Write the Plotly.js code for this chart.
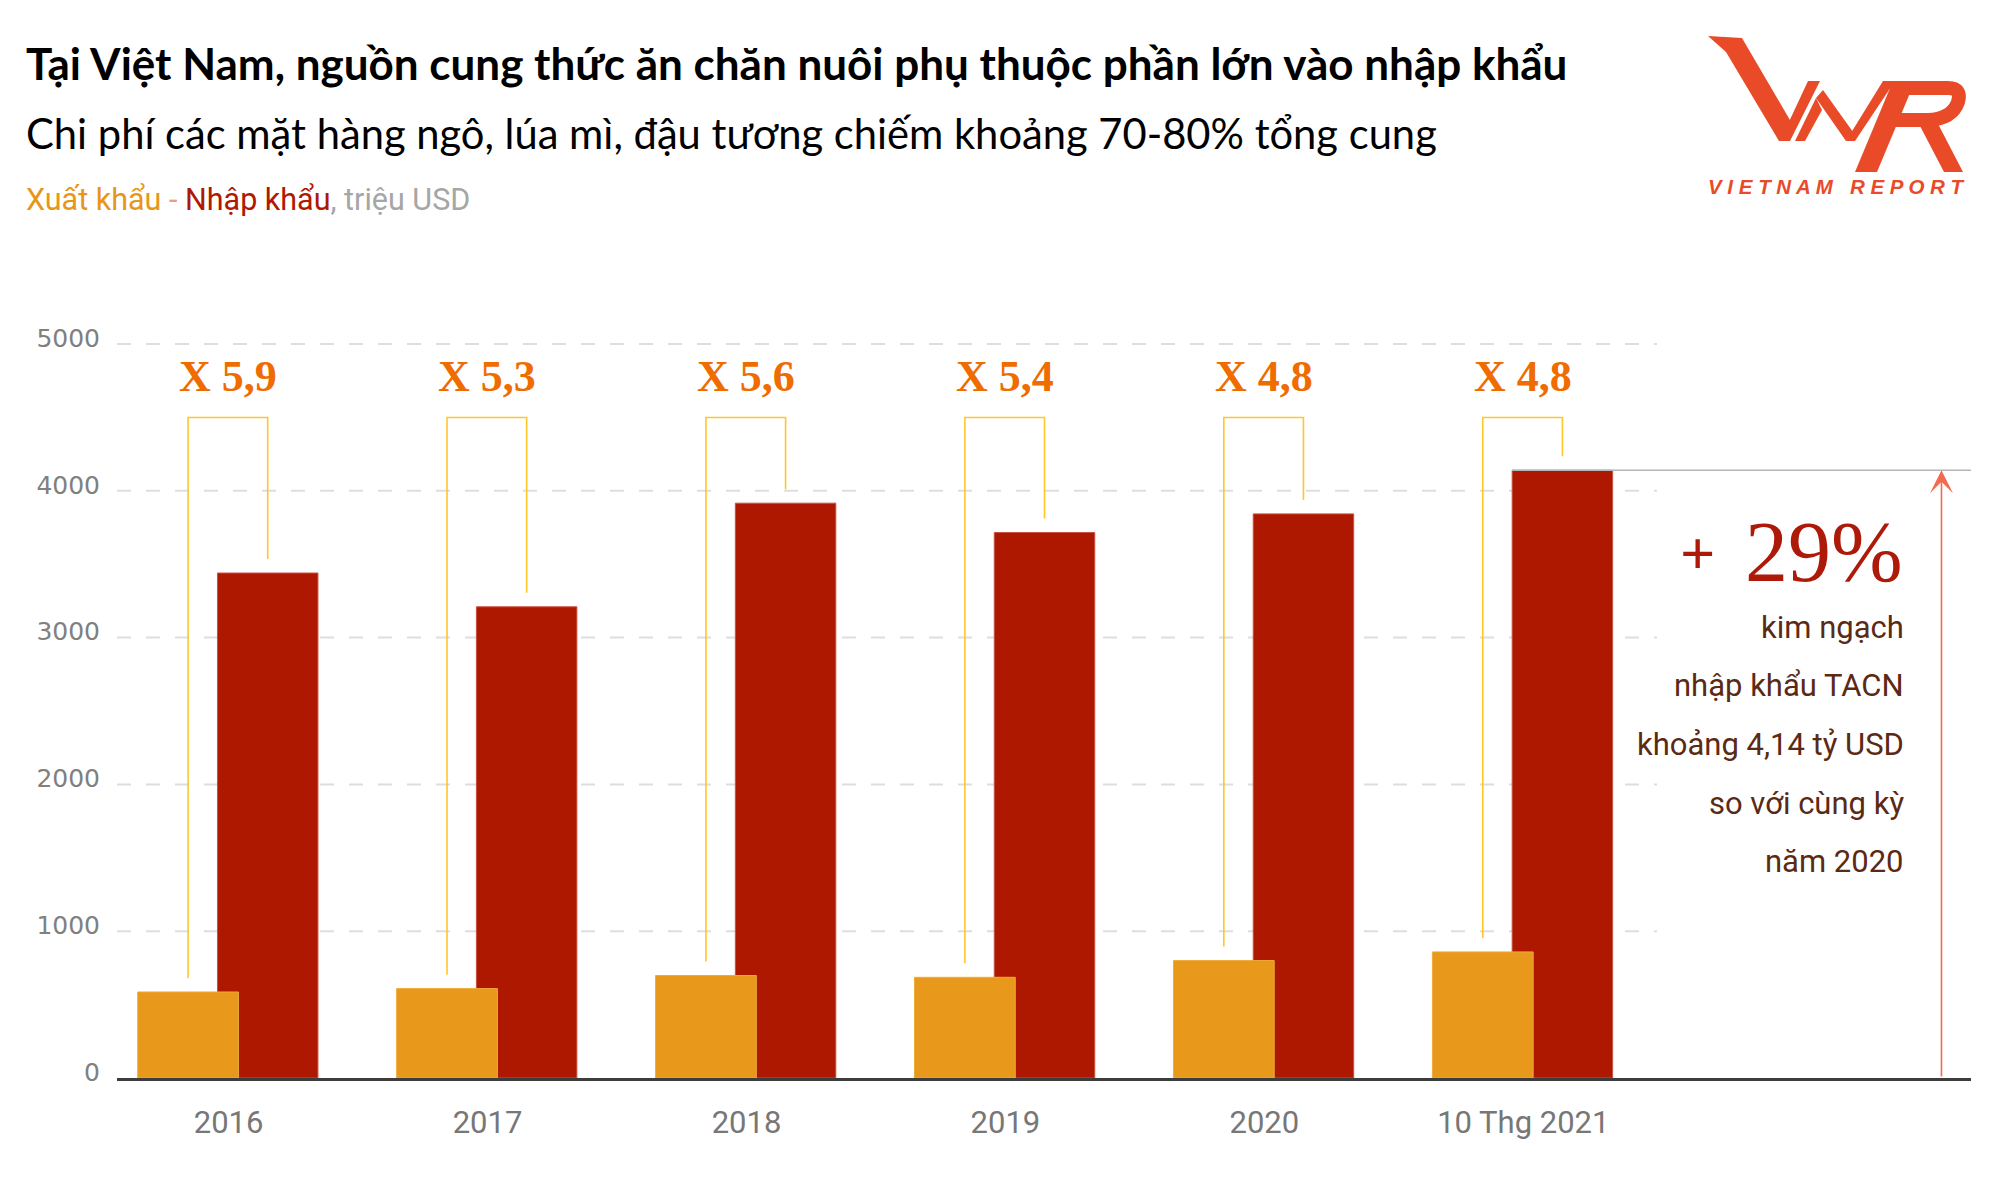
<!DOCTYPE html>
<html><head><meta charset="utf-8">
<script src="https://cdn.plot.ly/plotly-3.0.1.min.js"></script>
<style>html,body{margin:0;padding:0;background:#fff;} #chart{width:2000px;height:1182px;}</style>
</head><body><div id="chart"></div>
<script>
// ---- data ----
const categories = ['2016', '2017', '2018', '2019', '2020', '10 Thg 2021'];
const exportValues = [586, 609, 698, 686, 800, 859];      // Xuất khẩu, triệu USD
const importValues = [3440, 3210, 3916, 3716, 3843, 4140]; // Nhập khẩu, triệu USD
const ratioLabels = ['X 5,9', 'X 5,3', 'X 5,6', 'X 5,4', 'X 4,8', 'X 4,8'];
const yTicks = [0, 1000, 2000, 3000, 4000, 5000];
const noteLines = ['kim ngạch', 'nhập khẩu TACN', 'khoảng 4,14 tỷ USD', 'so với cùng kỳ', 'năm 2020'];
const growthText = '29%';

// ---- layout helpers ----
const L = 117, R = 1971, T = 300, B = 1078;
const px = x => (x - L) / (R - L);
const py = y => (B - y) / (B - T);
const NARROW = 'Roboto, Liberation Sans, sans-serif';
const SERIF = 'Liberation Serif, DejaVu Serif, serif';
const idx = categories.map((_, i) => i);
const O_OFF = -0.351, O_W = 0.389, R_OFF = -0.043, R_W = 0.388;
const GAP = 95, BR_TOP = 4500;

const traces = [
  {type: 'bar', x: idx, y: importValues, offset: R_OFF, width: R_W, name: 'Nhập khẩu',
   marker: {color: '#AF1800', line: {color: '#C9503F', width: 1}}, hoverinfo: 'y'},
  {type: 'bar', x: idx, y: exportValues, offset: O_OFF, width: O_W, name: 'Xuất khẩu',
   marker: {color: '#E8981A', line: {color: '#F0AA3A', width: 1}}, hoverinfo: 'y'}
];

const shapes = [];
yTicks.filter(v => v > 0).forEach(v => shapes.push({
  type: 'line', xref: 'paper', x0: 0, x1: px(1657), yref: 'y', y0: v, y1: v,
  line: {color: '#dedede', width: 2, dash: '14px,15px'}, layer: 'below'}));

idx.forEach(i => {
  const lx = i + O_OFF + O_W / 2, rx = i + R_OFF + R_W / 2;
  shapes.push({type: 'path', xref: 'x', yref: 'y',
    path: `M${lx},${exportValues[i] + GAP} L${lx},${BR_TOP} L${rx},${BR_TOP} L${rx},${importValues[i] + GAP}`,
    line: {color: '#FFC629', width: 1.6}});
});

const last = idx.length - 1;
shapes.push({type: 'line', xref: 'x', yref: 'y', x0: last + R_OFF, x1: 6.729,
  y0: importValues[last], y1: importValues[last], line: {color: '#b5b5b5', width: 1.5}});

// logo (pixel coords -> paper)
const LOGO = '#E94B28';
const poly = pts => 'M' + pts.map(p => `${px(p[0])},${py(p[1])}`).join(' L') + ' Z';
[
  [[1708,36],[1742,38],[1794,127],[1786,141],[1779,141],[1726,52]],
  [[1780,141],[1808,81],[1820,81],[1790,141]],
  [[1795,141],[1816,98],[1822,110],[1805,141]],
  [[1816,98],[1823,90],[1853,132],[1846,141]],
  [[1846,141],[1883,81],[1895,81],[1855,141]],
  [[1855,172],[1893,81],[1915,81],[1877,172]],
  [[1920,126],[1944,172],[1963,172],[1936,120]]
].forEach(p => shapes.push({type: 'path', xref: 'paper', yref: 'paper', path: poly(p),
  fillcolor: LOGO, line: {width: 0}}));
shapes.push({type: 'path', xref: 'paper', yref: 'paper',
  path: `M${px(1900)},${py(88)} L${px(1948)},${py(88)} Q${px(1962)},${py(88)} ${px(1958)},${py(102)} Q${px(1952)},${py(119)} ${px(1928)},${py(120)} L${px(1892)},${py(120)}`,
  line: {color: LOGO, width: 14}, fillcolor: 'rgba(0,0,0,0)'});

const annotations = [];
idx.forEach(i => {
  const lx = i + O_OFF + O_W / 2, rx = i + R_OFF + R_W / 2;
  annotations.push({xref: 'x', yref: 'y', x: (lx + rx) / 2, y: 4780, text: ratioLabels[i],
    showarrow: false, xanchor: 'center', yanchor: 'middle',
    font: {family: SERIF, size: 44, color: '#EF6C00', weight: 'bold'}});
});
annotations.push({xref: 'x', yref: 'y', axref: 'x', ayref: 'y', x: 6.615, y: importValues[last],
  ax: 6.615, ay: 0, text: '', showarrow: true, arrowhead: 3, arrowsize: 2.4, arrowwidth: 1.6,
  arrowcolor: '#F26A4F'});
annotations.push({xref: 'paper', yref: 'paper', x: px(1717), y: py(553), text: '+',
  showarrow: false, xanchor: 'right', yanchor: 'middle',
  font: {family: SERIF, size: 62, color: '#AE1A0A', weight: 'bold'}});
annotations.push({xref: 'paper', yref: 'paper', x: px(1905), y: py(552), text: growthText,
  showarrow: false, xanchor: 'right', yanchor: 'middle',
  font: {family: SERIF, size: 86, color: '#AE1A0A'}});
noteLines.forEach((t, k) => annotations.push({xref: 'paper', yref: 'paper', x: px(1906),
  y: py(627 + k * 58.75), text: t, showarrow: false, xanchor: 'right', yanchor: 'middle',
  font: {family: NARROW, size: 31, color: '#5B2A14'}}));

// titles
annotations.push({xref: 'paper', yref: 'paper', x: px(24), y: py(62.5), xanchor: 'left', yanchor: 'middle',
  showarrow: false, text: 'Tại Việt Nam, nguồn cung thức ăn chăn nuôi phụ thuộc phần lớn vào nhập khẩu',
  font: {family: 'Lato, Open Sans, sans-serif', size: 44, color: '#000', weight: 'bold'}});
annotations.push({xref: 'paper', yref: 'paper', x: px(24), y: py(133.5), xanchor: 'left', yanchor: 'middle',
  showarrow: false, text: 'Chi phí các mặt hàng ngô, lúa mì, đậu tương chiếm khoảng 70-80% tổng cung',
  font: {family: 'Lato, Open Sans, sans-serif', size: 41.7, color: '#000'}});
annotations.push({xref: 'paper', yref: 'paper', x: px(24), y: py(199.5), xanchor: 'left', yanchor: 'middle',
  showarrow: false,
  text: '<span style="color:#E8961A">Xuất khẩu</span><span style="color:#E9A07A"> - </span><span style="color:#B01800">Nhập khẩu</span><span style="color:#A6A6A6">, triệu USD</span>',
  font: {family: NARROW, size: 30.5, color: '#A6A6A6'}});
annotations.push({xref: 'paper', yref: 'paper', x: px(1836), y: py(186.5), xanchor: 'center', yanchor: 'middle',
  showarrow: false, text: 'V I E T N A M   R E P O R T',
  font: {family: 'Liberation Sans, Arial, sans-serif', size: 20.5, color: LOGO, weight: 'bold', style: 'italic'}});

const layout = {
  width: 2000, height: 1182, paper_bgcolor: '#fff', plot_bgcolor: 'rgba(0,0,0,0)',
  margin: {l: L, r: 2000 - R, t: T, b: 1182 - B, pad: 0},
  barmode: 'overlay', showlegend: false,
  xaxis: {range: [-0.431, 6.729], tickmode: 'array', tickvals: idx, ticktext: categories,
    showgrid: false, zeroline: false, showline: true, linecolor: '#3d3d3d', linewidth: 3,
    ticks: '', ticklabelstandoff: 15, fixedrange: true,
    tickfont: {family: NARROW, size: 31, color: '#777777'}},
  yaxis: {range: [0, 5300], tickmode: 'array', tickvals: yTicks, showgrid: false, zeroline: false,
    showline: false, ticks: '', ticklabelstandoff: 16, ticklabelshift: -6, fixedrange: true,
    tickfont: {family: 'DejaVu Sans, sans-serif', size: 25, color: '#808080'}},
  shapes: shapes, annotations: annotations
};
Plotly.newPlot('chart', traces, layout, {displayModeBar: false, staticPlot: true});
</script></body></html>
